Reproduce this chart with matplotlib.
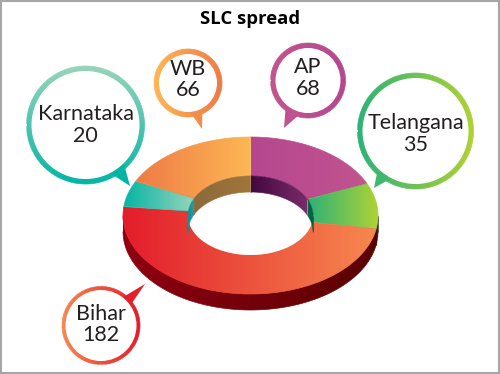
import numpy as np
import matplotlib
matplotlib.use('Agg')
import matplotlib.pyplot as plt
from matplotlib.collections import LineCollection
from matplotlib.colors import LinearSegmentedColormap
from matplotlib.patches import Circle, Rectangle, Polygon

# data, clockwise from the top
states = ['AP', 'Telangana', 'Bihar', 'Karnataka', 'WB']
values = [68, 35, 182, 20, 66]

# top surface gradients, left to right
top_left = ['#B5478F', '#2DB277', '#E31D2B', '#04B5A5', '#EE7B45']
top_right = ['#C2548F', '#B0D234', '#F6884F', '#98D4BB', '#FDB754']
# walls
outer_left = ['#3A0A0A', '#1E2A10', '#8E0013', '#8E0013', '#8E0013']
outer_right = ['#3A0A0A', '#1E2A10', '#5A0000', '#8E0013', '#8E0013']
inner_left = ['#43083F', '#006B46', '#178E95', '#178E95', '#8B6A3B']
inner_right = ['#7B2C6B', '#00593C', '#178E95', '#2B9AA0', '#A2753A']

# bubble layout: centre x, y, radius, ring width, tip x, tip y, half width of the tail (deg)
bubble_x = [308, 415.5, 101, 85.5, 188]
bubble_y = [80.5, 131, 325.5, 125, 83]
bubble_r = [37.5, 58, 39, 59, 34]
bubble_w = [5, 5, 3.5, 5, 5]
tip_x = [284, 374, 145, 130, 202]
tip_y = [128, 188, 284, 186, 129]
tail_deg = [16, 9, 9, 9, 13]
text_dy = [-2.5, 3, -1, 0, -3.5]
ring_a = ['#C2548F', '#2DB277', '#F6884F', '#98D4BB', '#FDB754']
ring_b = ['#B5478F', '#B0D234', '#E31D2B', '#04B5A5', '#EE7B45']
ring_vertical = [False, False, False, True, False]

# donut geometry in pixels
cx, cy = 250.5, 215.5
rx, ry = 127.5, 78.5
rx_in, ry_in = 62.5, 39.5
depth = 16

fig = plt.figure(figsize=(5, 3.74), dpi=100)
ax = fig.add_axes([0, 0, 1, 1])
z = [1]


def gradient(verts, c0, c1, vertical=False, edge=True):
    verts = np.array(verts)
    x0, y0 = verts.min(axis=0)
    x1, y1 = verts.max(axis=0)
    cmap = LinearSegmentedColormap.from_list('g', [c0, c1])
    g = np.linspace(0, 1, 256)
    g = g.reshape(-1, 1) if vertical else g.reshape(1, -1)
    z[0] += 1
    im = ax.imshow(g, cmap=cmap, extent=(x0, x1, y1, y0), origin='upper',
                   aspect='auto', interpolation='bilinear', vmin=0, vmax=1, zorder=z[0])
    im.set_clip_path(Polygon(verts, closed=True, transform=ax.transData))
    # clip paths are not antialiased, so go over the edge with a thin line
    if edge:
        pts = np.vstack([verts, verts[:1]])
        segs = np.stack([pts[:-1], pts[1:]], axis=1)
        if vertical:
            pos = (segs[:, :, 1].mean(axis=1) - y0) / (y1 - y0)
        else:
            pos = (segs[:, :, 0].mean(axis=1) - x0) / (x1 - x0)
        z[0] += 1
        ax.add_collection(LineCollection(segs, colors=cmap(pos), linewidths=0.5, zorder=z[0]))


def arc(a0, a1, a, b, dy=0):
    t = np.radians(np.linspace(a0, a1, 90))
    return np.column_stack([cx + a * np.sin(t), cy - b * np.cos(t) + dy])


angles = np.cumsum([0] + values) / sum(values) * 360

# outer wall, front half only
for i in range(len(values)):
    a0, a1 = max(angles[i], 90), min(angles[i + 1], 270)
    if a1 > a0:
        v = np.vstack([arc(a0, a1, rx, ry), arc(a1, a0, rx, ry, depth)])
        gradient(v, outer_left[i], outer_right[i])

# top surface
for i in range(len(values)):
    v = np.vstack([arc(angles[i], angles[i + 1], rx, ry),
                   arc(angles[i + 1], angles[i], rx_in, ry_in)])
    gradient(v, top_left[i], top_right[i])

# hole
z[0] += 1
ax.add_patch(Polygon(arc(0, 360, rx_in, ry_in), closed=True, fc='white', ec='none', zorder=z[0]))
for i in range(len(values)):
    for lo, hi in [(-90, 90), (270, 450)]:
        a0, a1 = max(angles[i], lo), min(angles[i + 1], hi)
        if a1 > a0:
            v = np.vstack([arc(a0, a1, rx_in, ry_in), arc(a1, a0, rx_in, ry_in, depth)])
            gradient(v, inner_left[i], inner_right[i])

# bubbles
for i, s in enumerate(states):
    x, y, r, w = bubble_x[i], bubble_y[i], bubble_r[i], bubble_w[i]
    t = np.arctan2(tip_y[i] - y, tip_x[i] - x)
    d = np.radians(tail_deg[i])
    rim = [[x + r * np.cos(k), y + r * np.sin(k)] for k in np.linspace(0, 2 * np.pi, 180)]
    gradient(rim, ring_a[i], ring_b[i], ring_vertical[i])
    tail = [[x + (r - w) * np.cos(t - d), y + (r - w) * np.sin(t - d)],
            [tip_x[i], tip_y[i]],
            [x + (r - w) * np.cos(t + d), y + (r - w) * np.sin(t + d)]]
    col = LinearSegmentedColormap.from_list('g', [ring_a[i], ring_b[i]])
    mix = np.clip((tip_y[i] - (y - r)) / (2 * r) if ring_vertical[i]
                  else (tip_x[i] - (x - r)) / (2 * r), 0, 1)
    z[0] += 1
    ax.add_patch(Polygon(tail, closed=True, fc=col(mix), ec='none', zorder=z[0]))
    ax.add_patch(Circle((x, y), r - w, fc='white', ec='none', zorder=z[0] + 1))
    z[0] += 2
    ax.text(x, y + text_dy[i], '%s\n%d' % (s, values[i]), ha='center', va='center', zorder=z[0],
            fontsize=15.5, family='Lato', color='#231F20', linespacing=1.12)

ax.text(250.5, 19, 'SLC spread', ha='center', va='center', fontsize=13.3,
        fontweight='bold', family='Open Sans', color='black', zorder=z[0])

ax.add_patch(Rectangle((1, 1), 498, 372, fc='none', ec='#A6A6A6', lw=1.5, zorder=z[0]))
ax.set_xlim(0, 500)
ax.set_ylim(374, 0)
ax.axis('off')
fig.savefig('out.png', dpi=100)
